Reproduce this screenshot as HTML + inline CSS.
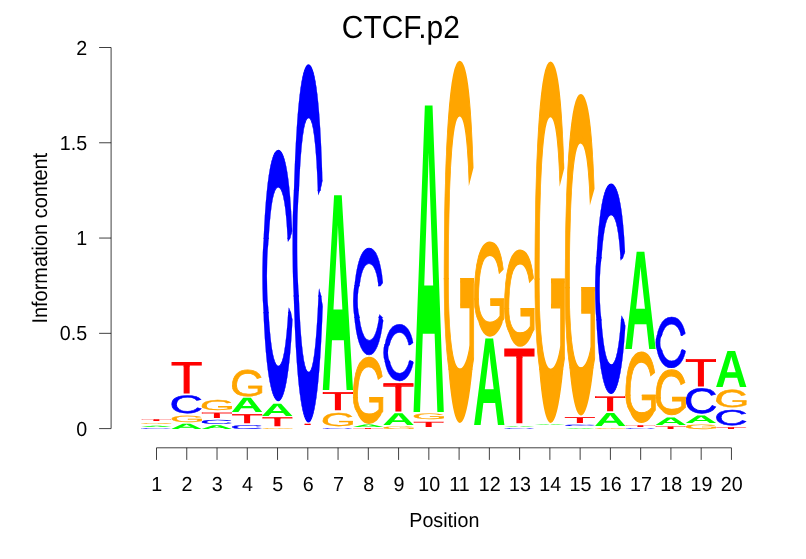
<!DOCTYPE html>
<html><head><meta charset="utf-8"><title>CTCF.p2</title>
<style>
html,body{margin:0;padding:0;background:#fff;}
svg{display:block;will-change:transform;}
text{font-family:"Liberation Sans",sans-serif;text-rendering:geometricPrecision;}
.l{font-weight:bold;font-size:100px;}
.r{font-weight:normal;font-size:100px;stroke-linejoin:miter;stroke-miterlimit:10;}
.ax{font-size:19.7px;fill:#000;}
</style></head><body>
<svg width="806" height="559" viewBox="0 0 806 559">
<rect width="806" height="559" fill="#fff"/>
<text transform="translate(400.8 37.6) scale(1 1.07)" text-anchor="middle" style="font-size:29.9px">CTCF.p2</text>
<text class="ax" transform="translate(444.3 526.8) scale(1 1.03)" text-anchor="middle">Position</text>
<text class="ax" style="font-size:19.95px" transform="translate(46.5 238.2) rotate(-90) scale(1 1.07)" text-anchor="middle">Information content</text>
<g stroke="#000" stroke-width="0.75" fill="none">
<path d="M111.1 47.5V428.6"/>
<path d="M99.1 428.60H111.1"/>
<path d="M99.1 333.33H111.1"/>
<path d="M99.1 238.05H111.1"/>
<path d="M99.1 142.77H111.1"/>
<path d="M99.1 47.50H111.1"/>
<path d="M156.50 447.8H731.44"/>
<path d="M156.50 447.8V459.9"/>
<path d="M186.76 447.8V459.9"/>
<path d="M217.02 447.8V459.9"/>
<path d="M247.28 447.8V459.9"/>
<path d="M277.54 447.8V459.9"/>
<path d="M307.80 447.8V459.9"/>
<path d="M338.06 447.8V459.9"/>
<path d="M368.32 447.8V459.9"/>
<path d="M398.58 447.8V459.9"/>
<path d="M428.84 447.8V459.9"/>
<path d="M459.10 447.8V459.9"/>
<path d="M489.36 447.8V459.9"/>
<path d="M519.62 447.8V459.9"/>
<path d="M549.88 447.8V459.9"/>
<path d="M580.14 447.8V459.9"/>
<path d="M610.40 447.8V459.9"/>
<path d="M640.66 447.8V459.9"/>
<path d="M670.92 447.8V459.9"/>
<path d="M701.18 447.8V459.9"/>
<path d="M731.44 447.8V459.9"/>
</g>
<text class="ax" transform="translate(87.1 435.60) scale(1 1.03)" text-anchor="end">0</text>
<text class="ax" transform="translate(87.1 340.33) scale(1 1.03)" text-anchor="end">0.5</text>
<text class="ax" transform="translate(87.1 245.05) scale(1 1.03)" text-anchor="end">1</text>
<text class="ax" transform="translate(87.1 149.77) scale(1 1.03)" text-anchor="end">1.5</text>
<text class="ax" transform="translate(87.1 54.50) scale(1 1.03)" text-anchor="end">2</text>
<text class="ax" transform="translate(156.80 490.6) scale(1 1.03)" text-anchor="middle">1</text>
<text class="ax" transform="translate(187.06 490.6) scale(1 1.03)" text-anchor="middle">2</text>
<text class="ax" transform="translate(217.32 490.6) scale(1 1.03)" text-anchor="middle">3</text>
<text class="ax" transform="translate(247.58 490.6) scale(1 1.03)" text-anchor="middle">4</text>
<text class="ax" transform="translate(277.84 490.6) scale(1 1.03)" text-anchor="middle">5</text>
<text class="ax" transform="translate(308.10 490.6) scale(1 1.03)" text-anchor="middle">6</text>
<text class="ax" transform="translate(338.36 490.6) scale(1 1.03)" text-anchor="middle">7</text>
<text class="ax" transform="translate(368.62 490.6) scale(1 1.03)" text-anchor="middle">8</text>
<text class="ax" transform="translate(398.88 490.6) scale(1 1.03)" text-anchor="middle">9</text>
<text class="ax" transform="translate(429.14 490.6) scale(1 1.03)" text-anchor="middle">10</text>
<text class="ax" transform="translate(459.40 490.6) scale(1 1.03)" text-anchor="middle">11</text>
<text class="ax" transform="translate(489.66 490.6) scale(1 1.03)" text-anchor="middle">12</text>
<text class="ax" transform="translate(519.92 490.6) scale(1 1.03)" text-anchor="middle">13</text>
<text class="ax" transform="translate(550.18 490.6) scale(1 1.03)" text-anchor="middle">14</text>
<text class="ax" transform="translate(580.44 490.6) scale(1 1.03)" text-anchor="middle">15</text>
<text class="ax" transform="translate(610.70 490.6) scale(1 1.03)" text-anchor="middle">16</text>
<text class="ax" transform="translate(640.96 490.6) scale(1 1.03)" text-anchor="middle">17</text>
<text class="ax" transform="translate(671.22 490.6) scale(1 1.03)" text-anchor="middle">18</text>
<text class="ax" transform="translate(701.48 490.6) scale(1 1.03)" text-anchor="middle">19</text>
<text class="ax" transform="translate(731.74 490.6) scale(1 1.03)" text-anchor="middle">20</text>
<text class="r" fill="#0000ff" stroke="#0000ff" stroke-width="1.953" transform="matrix(0.46352 0 0 0.01374 139.299 428.873)">C</text>
<text class="l" fill="#00ff00" transform="matrix(0.45104 0 0 0.01890 140.077 426.900)">A</text>
<text class="r" fill="#ffa500" stroke="#ffa500" stroke-width="1.953" transform="matrix(0.45005 0 0 0.01374 139.376 423.973)">G</text>
<text class="r" fill="#ff0000" stroke="#ff0000" stroke-width="2.441" transform="matrix(0.51302 0 0 0.02527 140.674 420.769)">T</text>
<text class="l" fill="#00ff00" transform="matrix(0.45104 0 0 0.07704 170.337 428.600)">A</text>
<text class="r" fill="#ffa500" stroke="#ffa500" stroke-width="1.953" transform="matrix(0.45005 0 0 0.09072 169.636 421.823)">G</text>
<text class="r" fill="#0000ff" stroke="#0000ff" stroke-width="1.953" transform="matrix(0.46352 0 0 0.25153 169.559 412.609)">C</text>
<clipPath id="k1T0"><rect x="168.46" y="359.10" width="36.26" height="7.73"/></clipPath><g clip-path="url(#k1T0)"><text class="r" fill="#ff0000" stroke="#ff0000" stroke-width="2.441" transform="matrix(0.51302 0 0 0.34144 170.934 386.007)">T</text></g>
<clipPath id="k1T1"><rect x="168.46" y="365.53" width="36.26" height="31.37"/></clipPath><g clip-path="url(#k1T1)"><text class="r" fill="#ff0000" stroke="#ff0000" stroke-width="2.441" transform="matrix(0.51302 0 0 0.46363 170.934 393.334)">T</text></g>
<text class="l" fill="#00ff00" transform="matrix(0.45104 0 0 0.05378 200.597 428.600)">A</text>
<text class="r" fill="#0000ff" stroke="#0000ff" stroke-width="1.953" transform="matrix(0.46352 0 0 0.06185 199.819 423.779)">C</text>
<text class="r" fill="#ff0000" stroke="#ff0000" stroke-width="2.441" transform="matrix(0.51302 0 0 0.07720 201.194 417.906)">T</text>
<clipPath id="k2G0"><rect x="198.72" y="397.00" width="36.26" height="10.42"/></clipPath><g clip-path="url(#k2G0)"><text class="r" fill="#ffa500" stroke="#ffa500" stroke-width="1.465" transform="matrix(0.45335 0 0 0.17288 199.772 412.198)">G</text></g>
<clipPath id="k2G1"><rect x="198.72" y="406.12" width="36.26" height="7.08"/></clipPath><g clip-path="url(#k2G1)"><text class="r" fill="#ffa500" stroke="#ffa500" stroke-width="1.465" transform="matrix(0.45335 0 0 0.11067 199.772 410.011)">G</text></g>
<text class="r" fill="#0000ff" stroke="#0000ff" stroke-width="1.953" transform="matrix(0.46352 0 0 0.05773 230.079 428.587)">C</text>
<clipPath id="k3T0"><rect x="228.98" y="410.90" width="36.26" height="5.27"/></clipPath><g clip-path="url(#k3T0)"><text class="r" fill="#ff0000" stroke="#ff0000" stroke-width="2.441" transform="matrix(0.51302 0 0 0.09663 231.454 420.666)">T</text></g>
<clipPath id="k3T1"><rect x="228.98" y="414.87" width="36.26" height="11.03"/></clipPath><g clip-path="url(#k3T1)"><text class="r" fill="#ff0000" stroke="#ff0000" stroke-width="2.441" transform="matrix(0.51302 0 0 0.13122 231.454 422.740)">T</text></g>
<text class="l" fill="#00ff00" transform="matrix(0.45104 0 0 0.20785 230.857 412.400)">A</text>
<clipPath id="k3G0"><rect x="228.98" y="366.10" width="36.26" height="20.56"/></clipPath><g clip-path="url(#k3G0)"><text class="r" fill="#ffa500" stroke="#ffa500" stroke-width="1.465" transform="matrix(0.45335 0 0 0.45932 230.032 401.508)">G</text></g>
<clipPath id="k3G1"><rect x="228.98" y="385.36" width="36.26" height="13.84"/></clipPath><g clip-path="url(#k3G1)"><text class="r" fill="#ffa500" stroke="#ffa500" stroke-width="1.465" transform="matrix(0.45335 0 0 0.29404 230.032 395.697)">G</text></g>
<text class="r" fill="#ffa500" stroke="#ffa500" stroke-width="1.953" transform="matrix(0.45005 0 0 0.01237 260.416 428.676)">G</text>
<clipPath id="k4T0"><rect x="259.24" y="414.00" width="36.26" height="5.27"/></clipPath><g clip-path="url(#k4T0)"><text class="r" fill="#ff0000" stroke="#ff0000" stroke-width="2.441" transform="matrix(0.51302 0 0 0.09663 261.714 423.766)">T</text></g>
<clipPath id="k4T1"><rect x="259.24" y="417.97" width="36.26" height="11.03"/></clipPath><g clip-path="url(#k4T1)"><text class="r" fill="#ff0000" stroke="#ff0000" stroke-width="2.441" transform="matrix(0.51302 0 0 0.13122 261.714 425.840)">T</text></g>
<text class="l" fill="#00ff00" transform="matrix(0.45104 0 0 0.17733 261.117 415.500)">A</text>
<clipPath id="k4C0"><rect x="259.24" y="146.70" width="36.26" height="92.36"/></clipPath><g clip-path="url(#k4C0)"><text class="r" fill="#0000ff" stroke="#0000ff" stroke-width="0.391" transform="matrix(0.47488 0 0 4.72117 259.921 480.274)">C</text></g>
<clipPath id="k4C1"><rect x="259.24" y="237.76" width="36.26" height="75.52"/></clipPath><g clip-path="url(#k4C1)"><text class="r" fill="#0000ff" stroke="#0000ff" stroke-width="0.391" transform="matrix(0.47488 0 0 2.29641 259.921 355.721)">C</text></g>
<clipPath id="k4C2"><rect x="259.24" y="311.98" width="36.26" height="92.32"/></clipPath><g clip-path="url(#k4C2)"><text class="r" fill="#0000ff" stroke="#0000ff" stroke-width="0.391" transform="matrix(0.47488 0 0 4.41767 259.921 396.123)">C</text></g>
<text class="r" fill="#ff0000" stroke="#ff0000" stroke-width="2.441" transform="matrix(0.51302 0 0 0.01965 291.974 425.176)">T</text>
<clipPath id="k5C0"><rect x="289.50" y="61.30" width="36.26" height="129.67"/></clipPath><g clip-path="url(#k5C0)"><text class="r" fill="#0000ff" stroke="#0000ff" stroke-width="0.391" transform="matrix(0.47488 0 0 6.72148 290.181 534.935)">C</text></g>
<clipPath id="k5C1"><rect x="289.50" y="189.67" width="36.26" height="106.97"/></clipPath><g clip-path="url(#k5C1)"><text class="r" fill="#0000ff" stroke="#0000ff" stroke-width="0.391" transform="matrix(0.47488 0 0 3.26937 290.181 357.609)">C</text></g>
<clipPath id="k5C2"><rect x="289.50" y="295.34" width="36.26" height="130.16"/></clipPath><g clip-path="url(#k5C2)"><text class="r" fill="#0000ff" stroke="#0000ff" stroke-width="0.391" transform="matrix(0.47488 0 0 6.28938 290.181 415.130)">C</text></g>
<text class="r" fill="#0000ff" stroke="#0000ff" stroke-width="1.953" transform="matrix(0.46352 0 0 0.01237 320.859 428.676)">C</text>
<clipPath id="k6G0"><rect x="319.76" y="409.40" width="36.26" height="12.46"/></clipPath><g clip-path="url(#k6G0)"><text class="r" fill="#ffa500" stroke="#ffa500" stroke-width="1.465" transform="matrix(0.45335 0 0 0.23051 320.812 428.664)">G</text></g>
<clipPath id="k6G1"><rect x="319.76" y="420.56" width="36.26" height="8.44"/></clipPath><g clip-path="url(#k6G1)"><text class="r" fill="#ffa500" stroke="#ffa500" stroke-width="1.465" transform="matrix(0.45335 0 0 0.14756 320.812 425.748)">G</text></g>
<clipPath id="k6T0"><rect x="319.76" y="388.80" width="36.26" height="6.32"/></clipPath><g clip-path="url(#k6T0)"><text class="r" fill="#ff0000" stroke="#ff0000" stroke-width="2.441" transform="matrix(0.51302 0 0 0.20078 322.234 405.859)">T</text></g>
<clipPath id="k6T1"><rect x="319.76" y="393.82" width="36.26" height="19.68"/></clipPath><g clip-path="url(#k6T1)"><text class="r" fill="#ff0000" stroke="#ff0000" stroke-width="2.441" transform="matrix(0.51302 0 0 0.27264 322.234 410.167)">T</text></g>
<text class="l" fill="#00ff00" transform="matrix(0.45104 0 0 2.83144 321.637 390.000)">A</text>
<text class="r" fill="#ff0000" stroke="#ff0000" stroke-width="2.441" transform="matrix(0.51302 0 0 0.01263 352.494 428.685)">T</text>
<text class="l" fill="#00ff00" transform="matrix(0.45104 0 0 0.03488 351.897 427.000)">A</text>
<clipPath id="k7G0"><rect x="350.02" y="353.80" width="36.26" height="44.50"/></clipPath><g clip-path="url(#k7G0)"><text class="r" fill="#ffa500" stroke="#ffa500" stroke-width="1.465" transform="matrix(0.45335 0 0 1.13558 351.072 436.923)">G</text></g>
<clipPath id="k7G1"><rect x="350.02" y="397.00" width="36.26" height="18.05"/></clipPath><g clip-path="url(#k7G1)"><text class="r" fill="#ffa500" stroke="#ffa500" stroke-width="1.465" transform="matrix(0.45335 0 0 0.60182 351.072 418.158)">G</text></g>
<clipPath id="k7G2"><rect x="350.02" y="413.75" width="36.26" height="13.05"/></clipPath><g clip-path="url(#k7G2)"><text class="r" fill="#ffa500" stroke="#ffa500" stroke-width="1.465" transform="matrix(0.45335 0 0 1.11256 351.072 421.899)">G</text></g>
<clipPath id="k7C0"><rect x="350.02" y="244.40" width="36.26" height="41.89"/></clipPath><g clip-path="url(#k7C0)"><text class="r" fill="#0000ff" stroke="#0000ff" stroke-width="0.391" transform="matrix(0.47488 0 0 2.01532 350.701 388.512)">C</text></g>
<clipPath id="k7C1"><rect x="350.02" y="284.99" width="36.26" height="32.98"/></clipPath><g clip-path="url(#k7C1)"><text class="r" fill="#0000ff" stroke="#0000ff" stroke-width="0.391" transform="matrix(0.47488 0 0 0.98026 350.701 335.344)">C</text></g>
<clipPath id="k7C2"><rect x="350.02" y="316.67" width="36.26" height="41.13"/></clipPath><g clip-path="url(#k7C2)"><text class="r" fill="#0000ff" stroke="#0000ff" stroke-width="0.391" transform="matrix(0.47488 0 0 1.88576 350.701 352.590)">C</text></g>
<text class="r" fill="#ffa500" stroke="#ffa500" stroke-width="1.953" transform="matrix(0.45005 0 0 0.03711 381.456 428.628)">G</text>
<text class="l" fill="#00ff00" transform="matrix(0.45104 0 0 0.17006 382.157 424.500)">A</text>
<clipPath id="k8T0"><rect x="380.28" y="380.30" width="36.26" height="7.29"/></clipPath><g clip-path="url(#k8T0)"><text class="r" fill="#ff0000" stroke="#ff0000" stroke-width="2.441" transform="matrix(0.51302 0 0 0.29742 382.754 404.125)">T</text></g>
<clipPath id="k8T1"><rect x="380.28" y="386.29" width="36.26" height="27.71"/></clipPath><g clip-path="url(#k8T1)"><text class="r" fill="#ff0000" stroke="#ff0000" stroke-width="2.441" transform="matrix(0.51302 0 0 0.40385 382.754 410.507)">T</text></g>
<clipPath id="k8C0"><rect x="380.28" y="320.70" width="36.26" height="24.53"/></clipPath><g clip-path="url(#k8C0)"><text class="r" fill="#0000ff" stroke="#0000ff" stroke-width="0.391" transform="matrix(0.47488 0 0 1.08459 380.961 399.643)">C</text></g>
<clipPath id="k8C1"><rect x="380.28" y="343.93" width="36.26" height="18.35"/></clipPath><g clip-path="url(#k8C1)"><text class="r" fill="#0000ff" stroke="#0000ff" stroke-width="0.391" transform="matrix(0.47488 0 0 0.52755 380.961 371.029)">C</text></g>
<clipPath id="k8C2"><rect x="380.28" y="360.98" width="36.26" height="23.52"/></clipPath><g clip-path="url(#k8C2)"><text class="r" fill="#0000ff" stroke="#0000ff" stroke-width="0.391" transform="matrix(0.47488 0 0 1.01487 380.961 380.311)">C</text></g>
<text class="r" fill="#ff0000" stroke="#ff0000" stroke-width="2.441" transform="matrix(0.51302 0 0 0.07440 413.014 426.509)">T</text>
<text class="r" fill="#ffa500" stroke="#ffa500" stroke-width="1.953" transform="matrix(0.45005 0 0 0.07972 411.716 419.444)">G</text>
<text class="l" fill="#00ff00" transform="matrix(0.45104 0 0 4.45647 412.417 412.100)">A</text>
<clipPath id="k10G0"><rect x="440.80" y="57.80" width="36.26" height="221.56"/></clipPath><g clip-path="url(#k10G0)"><text class="r" fill="#ffa500" stroke="#ffa500" stroke-width="1.465" transform="matrix(0.45335 0 0 6.13722 441.852 493.822)">G</text></g>
<clipPath id="k10G1"><rect x="440.80" y="278.06" width="36.26" height="91.83"/></clipPath><g clip-path="url(#k10G1)"><text class="r" fill="#ffa500" stroke="#ffa500" stroke-width="1.465" transform="matrix(0.45335 0 0 3.25255 441.852 392.407)">G</text></g>
<clipPath id="k10G2"><rect x="440.80" y="368.58" width="36.26" height="57.31"/></clipPath><g clip-path="url(#k10G2)"><text class="r" fill="#ffa500" stroke="#ffa500" stroke-width="1.465" transform="matrix(0.45335 0 0 6.01282 441.852 412.624)">G</text></g>
<text class="l" fill="#00ff00" transform="matrix(0.45104 0 0 1.25729 472.937 424.800)">A</text>
<clipPath id="k11G0"><rect x="471.06" y="238.40" width="36.26" height="61.30"/></clipPath><g clip-path="url(#k11G0)"><text class="r" fill="#ffa500" stroke="#ffa500" stroke-width="1.465" transform="matrix(0.45335 0 0 1.61015 472.112 355.007)">G</text></g>
<clipPath id="k11G1"><rect x="471.06" y="298.40" width="36.26" height="25.05"/></clipPath><g clip-path="url(#k11G1)"><text class="r" fill="#ffa500" stroke="#ffa500" stroke-width="1.465" transform="matrix(0.45335 0 0 0.85333 472.112 328.400)">G</text></g>
<clipPath id="k11G2"><rect x="471.06" y="322.15" width="36.26" height="17.25"/></clipPath><g clip-path="url(#k11G2)"><text class="r" fill="#ffa500" stroke="#ffa500" stroke-width="1.465" transform="matrix(0.45335 0 0 1.57751 472.112 333.704)">G</text></g>
<text class="r" fill="#0000ff" stroke="#0000ff" stroke-width="1.953" transform="matrix(0.46352 0 0 0.01237 502.419 428.676)">C</text>
<text class="l" fill="#00ff00" transform="matrix(0.45104 0 0 0.01308 503.197 427.100)">A</text>
<clipPath id="k12T0"><rect x="501.32" y="345.60" width="36.26" height="12.42"/></clipPath><g clip-path="url(#k12T0)"><text class="r" fill="#ff0000" stroke="#ff0000" stroke-width="2.441" transform="matrix(0.51302 0 0 0.80743 503.794 405.136)">T</text></g>
<clipPath id="k12T1"><rect x="501.32" y="356.72" width="36.26" height="70.08"/></clipPath><g clip-path="url(#k12T1)"><text class="r" fill="#ff0000" stroke="#ff0000" stroke-width="2.441" transform="matrix(0.51302 0 0 1.09638 503.794 422.462)">T</text></g>
<clipPath id="k12G0"><rect x="501.32" y="246.50" width="36.26" height="62.68"/></clipPath><g clip-path="url(#k12G0)"><text class="r" fill="#ffa500" stroke="#ffa500" stroke-width="1.465" transform="matrix(0.45335 0 0 1.64913 502.372 365.857)">G</text></g>
<clipPath id="k12G1"><rect x="501.32" y="307.88" width="36.26" height="25.63"/></clipPath><g clip-path="url(#k12G1)"><text class="r" fill="#ffa500" stroke="#ffa500" stroke-width="1.465" transform="matrix(0.45335 0 0 0.87399 502.372 338.606)">G</text></g>
<clipPath id="k12G2"><rect x="501.32" y="332.21" width="36.26" height="17.59"/></clipPath><g clip-path="url(#k12G2)"><text class="r" fill="#ffa500" stroke="#ffa500" stroke-width="1.465" transform="matrix(0.45335 0 0 1.61571 502.372 344.039)">G</text></g>
<text class="l" fill="#00ff00" transform="matrix(0.45104 0 0 0.01163 533.457 424.800)">A</text>
<clipPath id="k13G0"><rect x="531.58" y="58.60" width="36.26" height="221.08"/></clipPath><g clip-path="url(#k13G0)"><text class="r" fill="#ffa500" stroke="#ffa500" stroke-width="1.465" transform="matrix(0.45335 0 0 6.12366 532.632 493.665)">G</text></g>
<clipPath id="k13G1"><rect x="531.58" y="278.38" width="36.26" height="91.62"/></clipPath><g clip-path="url(#k13G1)"><text class="r" fill="#ffa500" stroke="#ffa500" stroke-width="1.465" transform="matrix(0.45335 0 0 3.24536 532.632 392.475)">G</text></g>
<clipPath id="k13G2"><rect x="531.58" y="368.70" width="36.26" height="57.19"/></clipPath><g clip-path="url(#k13G2)"><text class="r" fill="#ffa500" stroke="#ffa500" stroke-width="1.465" transform="matrix(0.45335 0 0 5.99953 532.632 412.647)">G</text></g>
<text class="l" fill="#00ff00" transform="matrix(0.45104 0 0 0.01017 563.717 428.600)">A</text>
<text class="r" fill="#0000ff" stroke="#0000ff" stroke-width="1.953" transform="matrix(0.46352 0 0 0.02062 562.939 426.260)">C</text>
<text class="r" fill="#ff0000" stroke="#ff0000" stroke-width="2.441" transform="matrix(0.51302 0 0 0.08282 564.314 422.799)">T</text>
<clipPath id="k14G0"><rect x="561.84" y="91.00" width="36.26" height="197.20"/></clipPath><g clip-path="url(#k14G0)"><text class="r" fill="#ffa500" stroke="#ffa500" stroke-width="1.465" transform="matrix(0.45335 0 0 5.44909 562.892 478.470)">G</text></g>
<clipPath id="k14G1"><rect x="561.84" y="286.90" width="36.26" height="81.68"/></clipPath><g clip-path="url(#k14G1)"><text class="r" fill="#ffa500" stroke="#ffa500" stroke-width="1.465" transform="matrix(0.45335 0 0 2.88786 562.892 388.426)">G</text></g>
<clipPath id="k14G2"><rect x="561.84" y="367.27" width="36.26" height="51.23"/></clipPath><g clip-path="url(#k14G2)"><text class="r" fill="#ffa500" stroke="#ffa500" stroke-width="1.465" transform="matrix(0.45335 0 0 5.33864 562.892 406.376)">G</text></g>
<text class="r" fill="#ffa500" stroke="#ffa500" stroke-width="1.953" transform="matrix(0.45005 0 0 0.01237 593.276 428.676)">G</text>
<text class="l" fill="#00ff00" transform="matrix(0.45104 0 0 0.18896 593.977 426.000)">A</text>
<clipPath id="k15T0"><rect x="592.10" y="392.70" width="36.26" height="6.00"/></clipPath><g clip-path="url(#k15T0)"><text class="r" fill="#ff0000" stroke="#ff0000" stroke-width="2.441" transform="matrix(0.51302 0 0 0.16857 594.574 407.503)">T</text></g>
<clipPath id="k15T1"><rect x="592.10" y="397.40" width="36.26" height="17.00"/></clipPath><g clip-path="url(#k15T1)"><text class="r" fill="#ff0000" stroke="#ff0000" stroke-width="2.441" transform="matrix(0.51302 0 0 0.22890 594.574 411.121)">T</text></g>
<clipPath id="k15C0"><rect x="592.10" y="180.60" width="36.26" height="77.94"/></clipPath><g clip-path="url(#k15C0)"><text class="r" fill="#0000ff" stroke="#0000ff" stroke-width="0.391" transform="matrix(0.47488 0 0 3.94807 592.781 460.042)">C</text></g>
<clipPath id="k15C1"><rect x="592.10" y="257.24" width="36.26" height="63.37"/></clipPath><g clip-path="url(#k15C1)"><text class="r" fill="#0000ff" stroke="#0000ff" stroke-width="0.391" transform="matrix(0.47488 0 0 1.92037 592.781 355.884)">C</text></g>
<clipPath id="k15C2"><rect x="592.10" y="319.31" width="36.26" height="77.69"/></clipPath><g clip-path="url(#k15C2)"><text class="r" fill="#0000ff" stroke="#0000ff" stroke-width="0.391" transform="matrix(0.47488 0 0 3.69427 592.781 389.671)">C</text></g>
<text class="r" fill="#0000ff" stroke="#0000ff" stroke-width="1.953" transform="matrix(0.46352 0 0 0.01237 623.459 428.676)">C</text>
<text class="r" fill="#ff0000" stroke="#ff0000" stroke-width="2.441" transform="matrix(0.51302 0 0 0.02527 624.834 426.569)">T</text>
<clipPath id="k16G0"><rect x="622.36" y="348.20" width="36.26" height="47.68"/></clipPath><g clip-path="url(#k16G0)"><text class="r" fill="#ffa500" stroke="#ffa500" stroke-width="1.465" transform="matrix(0.45335 0 0 1.22541 623.412 437.661)">G</text></g>
<clipPath id="k16G1"><rect x="622.36" y="394.58" width="36.26" height="19.38"/></clipPath><g clip-path="url(#k16G1)"><text class="r" fill="#ffa500" stroke="#ffa500" stroke-width="1.465" transform="matrix(0.45335 0 0 0.64943 623.412 417.412)">G</text></g>
<clipPath id="k16G2"><rect x="622.36" y="412.65" width="36.26" height="13.85"/></clipPath><g clip-path="url(#k16G2)"><text class="r" fill="#ffa500" stroke="#ffa500" stroke-width="1.465" transform="matrix(0.45335 0 0 1.20057 623.412 421.448)">G</text></g>
<text class="l" fill="#00ff00" transform="matrix(0.45104 0 0 1.41281 624.237 349.200)">A</text>
<text class="r" fill="#ff0000" stroke="#ff0000" stroke-width="2.441" transform="matrix(0.51302 0 0 0.03790 655.094 428.654)">T</text>
<text class="l" fill="#00ff00" transform="matrix(0.45104 0 0 0.10756 654.497 424.500)">A</text>
<clipPath id="k17G0"><rect x="652.62" y="366.80" width="36.26" height="31.72"/></clipPath><g clip-path="url(#k17G0)"><text class="r" fill="#ffa500" stroke="#ffa500" stroke-width="1.465" transform="matrix(0.45335 0 0 0.77457 653.672 424.451)">G</text></g>
<clipPath id="k17G1"><rect x="652.62" y="397.22" width="36.26" height="12.72"/></clipPath><g clip-path="url(#k17G1)"><text class="r" fill="#ffa500" stroke="#ffa500" stroke-width="1.465" transform="matrix(0.45335 0 0 0.41050 653.672 411.652)">G</text></g>
<clipPath id="k17G2"><rect x="652.62" y="408.64" width="36.26" height="9.86"/></clipPath><g clip-path="url(#k17G2)"><text class="r" fill="#ffa500" stroke="#ffa500" stroke-width="1.465" transform="matrix(0.45335 0 0 0.75887 653.672 414.203)">G</text></g>
<clipPath id="k17C0"><rect x="652.62" y="313.90" width="36.26" height="22.19"/></clipPath><g clip-path="url(#k17C0)"><text class="r" fill="#0000ff" stroke="#0000ff" stroke-width="0.391" transform="matrix(0.47488 0 0 0.95887 653.301 384.040)">C</text></g>
<clipPath id="k17C1"><rect x="652.62" y="334.78" width="36.26" height="16.37"/></clipPath><g clip-path="url(#k17C1)"><text class="r" fill="#0000ff" stroke="#0000ff" stroke-width="0.391" transform="matrix(0.47488 0 0 0.46640 653.301 358.743)">C</text></g>
<clipPath id="k17C2"><rect x="652.62" y="349.86" width="36.26" height="21.14"/></clipPath><g clip-path="url(#k17C2)"><text class="r" fill="#0000ff" stroke="#0000ff" stroke-width="0.391" transform="matrix(0.47488 0 0 0.89723 653.301 366.949)">C</text></g>
<text class="r" fill="#ffa500" stroke="#ffa500" stroke-width="1.953" transform="matrix(0.45005 0 0 0.06460 684.056 428.574)">G</text>
<text class="l" fill="#00ff00" transform="matrix(0.45104 0 0 0.10756 684.757 422.900)">A</text>
<text class="r" fill="#0000ff" stroke="#0000ff" stroke-width="1.953" transform="matrix(0.46352 0 0 0.35462 683.979 413.307)">C</text>
<clipPath id="k18T0"><rect x="682.88" y="355.70" width="36.26" height="7.30"/></clipPath><g clip-path="url(#k18T0)"><text class="r" fill="#ff0000" stroke="#ff0000" stroke-width="2.441" transform="matrix(0.51302 0 0 0.29849 685.354 379.600)">T</text></g>
<clipPath id="k18T1"><rect x="682.88" y="361.70" width="36.26" height="27.80"/></clipPath><g clip-path="url(#k18T1)"><text class="r" fill="#ff0000" stroke="#ff0000" stroke-width="2.441" transform="matrix(0.51302 0 0 0.40531 685.354 386.005)">T</text></g>
<text class="r" fill="#ff0000" stroke="#ff0000" stroke-width="2.441" transform="matrix(0.51302 0 0 0.02667 715.614 428.567)">T</text>
<text class="r" fill="#0000ff" stroke="#0000ff" stroke-width="1.953" transform="matrix(0.46352 0 0 0.21580 714.239 424.979)">C</text>
<clipPath id="k19G0"><rect x="713.14" y="385.90" width="36.26" height="15.64"/></clipPath><g clip-path="url(#k19G0)"><text class="r" fill="#ffa500" stroke="#ffa500" stroke-width="1.465" transform="matrix(0.45335 0 0 0.32034 714.192 411.502)">G</text></g>
<clipPath id="k19G1"><rect x="713.14" y="400.24" width="36.26" height="10.56"/></clipPath><g clip-path="url(#k19G1)"><text class="r" fill="#ffa500" stroke="#ffa500" stroke-width="1.465" transform="matrix(0.45335 0 0 0.20507 714.192 407.450)">G</text></g>
<text class="l" fill="#00ff00" transform="matrix(0.45104 0 0 0.52326 715.017 387.200)">A</text>
</svg>
</body></html>
